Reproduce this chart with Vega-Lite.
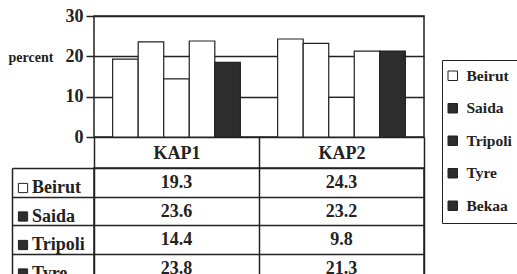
{
  "$schema": "https://vega.github.io/schema/vega-lite/v6.json",
  "padding": {"left": 7, "top": 6, "right": 0, "bottom": 0},
  "background": "white",
  "config": {
    "font": "Liberation Serif, DejaVu Serif, serif",
    "view": {"stroke": "#222", "strokeWidth": 1.5},
    "axis": {
      "labelFont": "Liberation Serif, DejaVu Serif, serif", "labelFontWeight": "bold", "labelColor": "#222",
      "titleFont": "Liberation Serif, DejaVu Serif, serif", "titleFontWeight": "bold", "titleColor": "#222",
      "domainColor": "#222", "tickColor": "#222", "gridColor": "#222", "gridOpacity": 1,
      "tickWidth": 1.5, "gridWidth": 1.5, "domainWidth": 1.5
    },
    "legend": {
      "labelFont": "Liberation Serif, DejaVu Serif, serif", "labelFontWeight": "bold", "labelColor": "#222"
    }
  },
  "datasets": {
    "kap": [
      {"wave": "KAP1", "city": "Beirut", "percent": 19.3},
      {"wave": "KAP1", "city": "Saida", "percent": 23.6},
      {"wave": "KAP1", "city": "Tripoli", "percent": 14.4},
      {"wave": "KAP1", "city": "Tyre", "percent": 23.8},
      {"wave": "KAP1", "city": "Bekaa", "percent": 18.5},
      {"wave": "KAP2", "city": "Beirut", "percent": 24.3},
      {"wave": "KAP2", "city": "Saida", "percent": 23.2},
      {"wave": "KAP2", "city": "Tripoli", "percent": 9.8},
      {"wave": "KAP2", "city": "Tyre", "percent": 21.3},
      {"wave": "KAP2", "city": "Bekaa", "percent": 21.3}
    ]
  },
  "bounds": "flush",
  "spacing": 31,
  "resolve": {
    "scale": {"color": "independent", "fill": "independent", "x": "independent", "y": "independent"},
    "legend": {"color": "independent", "fill": "independent"}
  },
  "vconcat": [
    {
      "width": 330,
      "height": 121,
      "data": {"name": "kap"},
      "encoding": {
        "x": {
          "field": "wave", "type": "nominal",
          "scale": {"paddingInner": 0, "paddingOuter": 0},
          "axis": {
            "title": null, "labelAngle": 0, "tickBand": "extent", "tickSize": 31,
            "domain": false, "labelFontSize": 18, "labelBaseline": "middle", "labelPadding": -15
          }
        },
        "xOffset": {
          "field": "city", "type": "nominal",
          "sort": ["Beirut", "Saida", "Tripoli", "Tyre", "Bekaa"],
          "scale": {"paddingInner": 0, "paddingOuter": 0.73}
        },
        "y": {
          "field": "percent", "type": "quantitative",
          "scale": {"domain": [0, 30], "nice": false},
          "axis": {
            "values": [0, 10, 20, 30], "grid": true, "tickSize": 8, "domain": false,
            "labelFontSize": 18, "labelPadding": 3,
            "title": "percent", "titleAngle": 0, "titleX": -86, "titleY": 41,
            "titleAlign": "left", "titleBaseline": "middle", "titleFontSize": 14
          }
        }
      },
      "layer": [
        {
          "mark": {"type": "bar", "stroke": "#222", "strokeWidth": 1.2},
          "encoding": {
            "fill": {"condition": {"test": "datum.city === 'Bekaa'", "value": "#2d2d2d"}, "value": "white"}
          }
        },
        {
          "mark": {"type": "point", "shape": "square", "filled": true, "opacity": 0},
          "encoding": {
            "color": {
              "field": "city", "type": "nominal",
              "scale": {"domain": ["Beirut", "Saida", "Tripoli", "Tyre", "Bekaa"], "range": ["white", "#2d2d2d", "#2d2d2d", "#2d2d2d", "#2d2d2d"]},
              "legend": {
                "title": null, "orient": "none", "legendX": 348, "legendY": 44,
                "strokeColor": "#222", "padding": 8, "fillColor": "white",
                "symbolType": "square", "symbolSize": 90, "symbolOpacity": 1, "symbolOffset": -5,
                "symbolStrokeColor": "#222", "symbolStrokeWidth": 1,
                "labelFontSize": 15.5, "labelOffset": 6, "rowPadding": 15.5
              }
            }
          }
        }
      ]
    },
    {
      "width": 330,
      "height": 142.5,
      "data": {"name": "kap"},
      "encoding": {
        "x": {
          "field": "wave", "type": "nominal",
          "scale": {"paddingInner": 0, "paddingOuter": 0},
          "axis": {"title": null, "labels": false, "ticks": false, "domain": false, "grid": true, "tickBand": "extent"}
        },
        "y": {
          "field": "city", "type": "nominal",
          "sort": ["Beirut", "Saida", "Tripoli", "Tyre", "Bekaa"],
          "scale": {"paddingInner": 0, "paddingOuter": 0},
          "axis": {
            "title": null, "labels": false, "grid": true, "tickBand": "extent",
            "domain": true, "offset": 82, "ticks": true, "tickSize": -82
          }
        }
      },
      "layer": [
        {
          "mark": {"type": "text", "fontSize": 18, "fontWeight": "bold", "font": "Liberation Serif, DejaVu Serif, serif", "color": "#222", "dy": 1},
          "encoding": {"text": {"field": "percent", "type": "quantitative", "format": ".1f"}}
        },
        {
          "mark": {"type": "point", "shape": "square", "filled": true, "opacity": 0},
          "encoding": {
            "fill": {
              "field": "city", "type": "nominal",
              "scale": {"domain": ["Beirut", "Saida", "Tripoli", "Tyre", "Bekaa"], "range": ["white", "#2d2d2d", "#2d2d2d", "#2d2d2d", "#2d2d2d"]},
              "legend": {
                "title": null, "orient": "none", "legendX": -80, "legendY": 11,
                "padding": 0, "symbolType": "square", "symbolSize": 85, "symbolOpacity": 1,
                "symbolStrokeColor": "#222", "symbolStrokeWidth": 1,
                "labelFontSize": 18, "labelOffset": 0, "rowPadding": 10.5
              }
            }
          }
        }
      ]
    }
  ]
}
